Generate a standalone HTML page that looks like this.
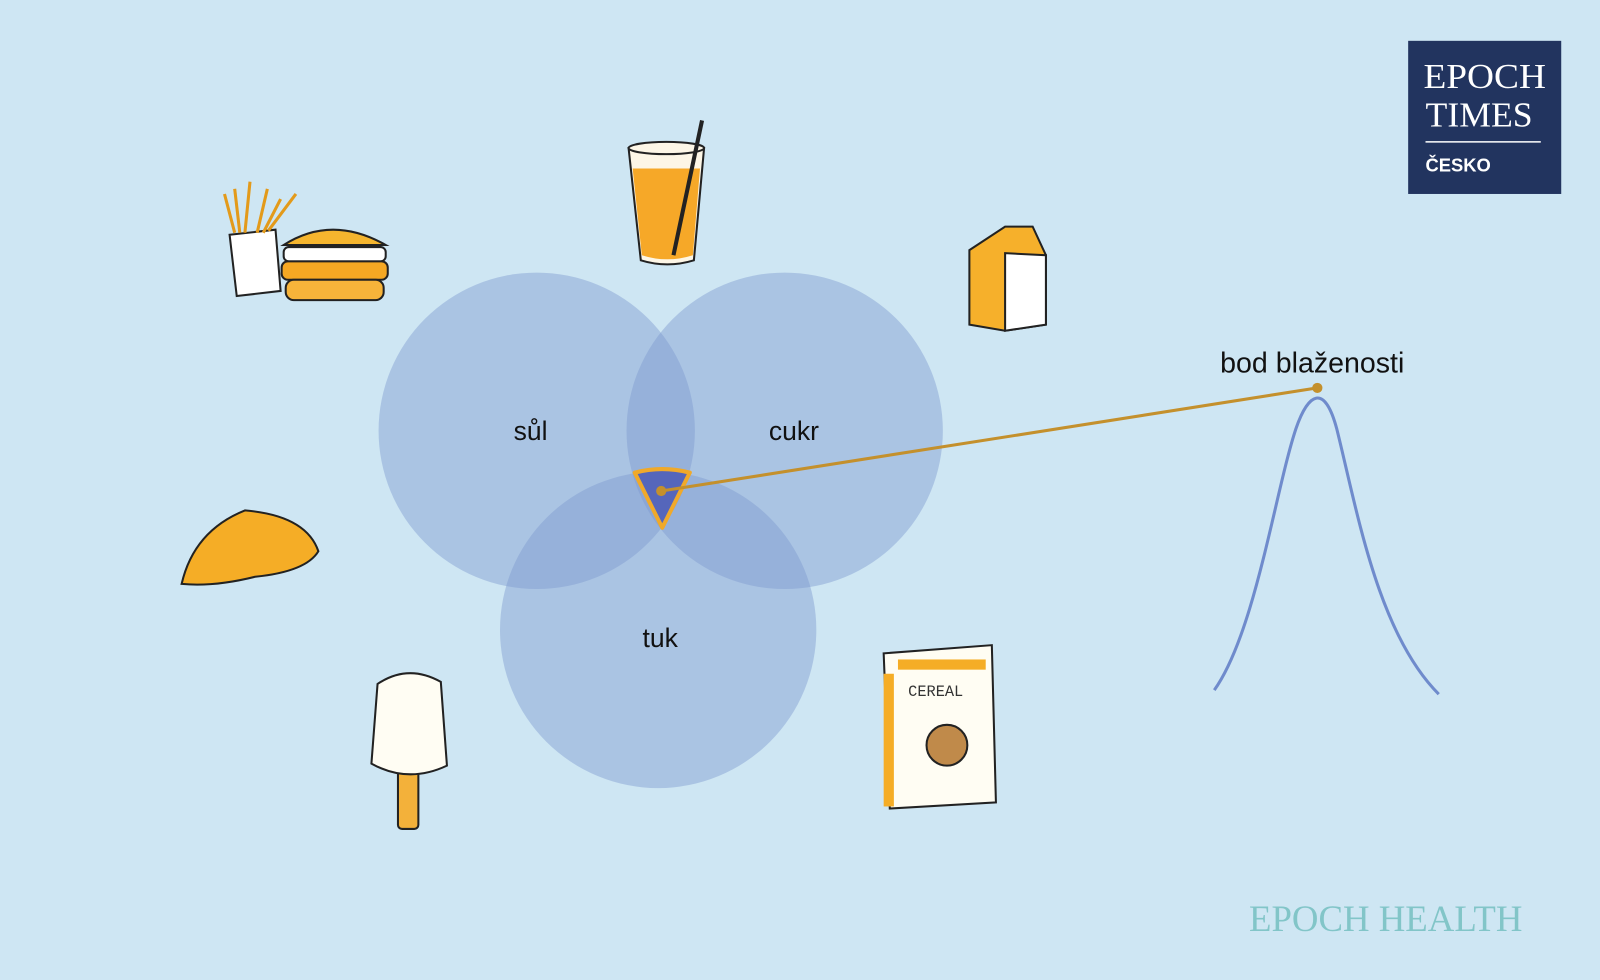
<!DOCTYPE html>
<html><head><meta charset="utf-8"><style>
html,body{margin:0;padding:0;width:1600px;height:980px;overflow:hidden;background:#cfe5f2}
svg{display:block}
</style></head><body>
<svg width="1600" height="980" viewBox="0 0 1568 960" preserveAspectRatio="none" xmlns="http://www.w3.org/2000/svg">
<rect width="1568" height="960" fill="#cee6f3"/>
<g fill="#7d98cf" fill-opacity="0.44">
<circle cx="526" cy="422" r="155"/>
<circle cx="769" cy="422" r="155"/>
<circle cx="645" cy="617" r="155"/>
</g>
<g font-family="Liberation Sans, sans-serif" font-size="26" fill="#111" text-anchor="middle">
<text x="520" y="431">sůl</text>
<text x="778" y="431">cukr</text>
<text x="647" y="634">tuk</text>
<text x="1286" y="365" font-size="28">bod blaženosti</text>
</g>
<path d="M622 463 Q649 456 676 463 L649 517 Z" fill="#5566bb" stroke="#f0a92a" stroke-width="4" stroke-linejoin="round"/>
<line x1="648" y1="481" x2="1291" y2="380" stroke="#c4902c" stroke-width="3"/>
<circle cx="648" cy="481" r="5" fill="#c4902c"/>
<circle cx="1291" cy="380" r="5" fill="#c4902c"/>
<path d="M1190 676 C1230 620 1250 480 1270 420 C1282 385 1298 375 1310 420 C1330 500 1350 620 1410 680" fill="none" stroke="#6f8bcc" stroke-width="3"/>
<rect x="1380" y="40" width="150" height="150" fill="#22345f"/>
<g font-family="Liberation Serif, serif" fill="#fff" font-size="34">
<text x="1395" y="86" textLength="120" lengthAdjust="spacingAndGlyphs">EPOCH</text>
<text x="1397" y="124" textLength="105" lengthAdjust="spacingAndGlyphs">TIMES</text>
</g>
<line x1="1397" y1="139" x2="1510" y2="139" stroke="#fff" stroke-width="1.5"/>
<text x="1397" y="168" font-family="Liberation Sans, sans-serif" font-weight="bold" font-size="18" fill="#fff">ČESKO</text>
<text x="1224" y="912" font-family="Liberation Serif, serif" font-size="36" fill="#82c5c8" textLength="268" lengthAdjust="spacingAndGlyphs">EPOCH HEALTH</text>
<g stroke="#222" stroke-width="2">
<path d="M225 230 L270 225 L275 285 L232 290 Z" fill="#fff"/>
<g stroke="#e39a1a" stroke-width="3"><line x1="230" y1="228" x2="220" y2="190"/><line x1="240" y1="228" x2="245" y2="178"/><line x1="252" y1="228" x2="262" y2="185"/><line x1="263" y1="226" x2="290" y2="190"/><line x1="258" y1="228" x2="275" y2="195"/><line x1="235" y1="228" x2="230" y2="185"/></g>
<path d="M278 240 Q325 210 378 240 Z" fill="#f5b52e"/>
<rect x="278" y="242" width="100" height="14" rx="5" fill="#fff"/>
<rect x="276" y="256" width="104" height="18" rx="6" fill="#f5a823"/>
<rect x="280" y="274" width="96" height="20" rx="8" fill="#f7b43a"/>
<path d="M616 145 L690 145 L680 255 Q654 263 628 255 Z" fill="#fdf6e6"/>
<path d="M620 165 L686 165 L679 250 Q654 258 629 250 Z" fill="#f6a828" stroke="none"/>
<ellipse cx="653" cy="145" rx="37" ry="6" fill="#fdf6e6"/>
<line x1="660" y1="250" x2="688" y2="118" stroke-width="4"/>
<path d="M950 245 L985 222 L1012 222 L1025 250 L1025 318 L985 324 L950 318 Z" fill="#f6b02b"/>
<path d="M985 248 L1025 250 L1025 318 L985 324 Z" fill="#fff"/>
<path d="M178 572 Q190 520 240 500 Q300 505 312 540 Q300 560 250 565 Q210 575 178 572 Z" fill="#f5ad26"/>
<rect x="390" y="750" width="20" height="62" rx="4" fill="#f3b13a"/>
<path d="M370 670 Q400 650 432 668 L438 750 Q400 768 364 748 Z" fill="#fffdf3"/>
<path d="M866 640 L972 632 L976 786 L872 792 Z" fill="#fffdf3"/>
<rect x="880" y="646" width="86" height="10" fill="#f5ad26" stroke="none"/>
<rect x="866" y="660" width="10" height="130" fill="#f5ad26" stroke="none"/>
<circle cx="928" cy="730" r="20" fill="#c08a4a"/>
</g>
<text x="890" y="682" font-family="Liberation Mono, monospace" font-size="15" fill="#333">CEREAL</text>
</svg>
</body></html>
